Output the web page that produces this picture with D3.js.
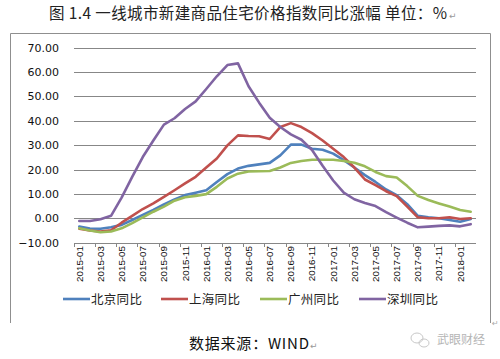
<!DOCTYPE html>
<html><head><meta charset="utf-8">
<script src="https://cdn.jsdelivr.net/npm/d3@7"></script>
<style>
html,body{margin:0;padding:0;background:#fff;}
svg{display:block;}
</style></head>
<body>
<svg id="c" width="500" height="359"></svg>
<script>
const months = ["2015-01","2015-02","2015-03","2015-04","2015-05","2015-06","2015-07","2015-08","2015-09","2015-10","2015-11","2015-12",
"2016-01","2016-02","2016-03","2016-04","2016-05","2016-06","2016-07","2016-08","2016-09","2016-10","2016-11","2016-12",
"2017-01","2017-02","2017-03","2017-04","2017-05","2017-06","2017-07","2017-08","2017-09","2017-10","2017-11","2017-12",
"2018-01","2018-02"];
const beijing = [-3.4,-4.2,-4.3,-3.7,-2.7,-0.7,1.4,3.4,5.7,7.7,9.5,10.5,11.5,14.9,18.1,20.4,21.5,22.1,22.7,
  25.8,30.2,30.2,28.5,28.1,26.5,23.8,20.8,17.7,14.9,11.8,9.5,5.8,1.0,0.4,0.0,-0.7,-1.4,-0.3];
const shanghai = [-4.3,-5.0,-5.4,-4.9,-1.8,1.0,3.8,6.1,8.8,11.5,14.3,17.0,20.8,24.5,29.9,34.0,33.7,33.6,32.5,
  37.4,39.0,37.4,34.9,31.9,28.5,25.1,20.8,15.9,13.6,11.1,9.1,4.8,0.4,0.0,0.0,0.4,-0.3,0.0];
const guangzhou = [-4.1,-5.0,-5.7,-5.4,-4.1,-2.0,0.4,2.7,4.8,7.2,8.6,9.2,9.9,12.9,16.3,18.3,19.2,19.3,19.4,
  20.8,22.7,23.5,24.0,24.0,24.0,23.5,22.8,21.3,19.0,17.3,16.7,13.2,9.2,7.5,6.1,4.8,3.4,2.7];
const shenzhen = [-1.1,-1.1,-0.4,1.0,8.5,17.0,25.1,31.9,38.4,41.0,44.8,47.9,53.0,58.2,62.8,63.5,54.1,47.4,41.2,
  37.4,34.4,32.2,28.0,21.5,15.5,10.5,7.8,6.3,5.0,2.5,0.3,-1.8,-3.7,-3.4,-3.1,-2.9,-3.3,-2.4];
const seriesNames = ["北京同比","上海同比","广州同比","深圳同比"];
const seriesColors = ["#4F81BD","#C0504D","#9BBB59","#8064A2"];
const yTicks = [-10,0,10,20,30,40,50,60,70];
const titleText = "图 1.4 一线城市新建商品住宅价格指数同比涨幅 单位：%";
const sourceText = "数据来源：WIND";
const watermark = "武眼财经";

const seriesData = [beijing, shanghai, guangzhou, shenzhen];
const svg = d3.select("#c");
const cjk = "'Noto Sans CJK SC','Noto Sans',sans-serif";

svg.append("rect").attr("width",500).attr("height",359).attr("fill","#fff");

// frame (top, left, right)
svg.append("path").attr("d","M10.5,323 V33.5 H490.5 V323")
  .attr("fill","none").attr("stroke","#8f8f8f").attr("stroke-width",1);

// title
svg.append("text").attr("x",49).attr("y",19)
  .attr("font-family",cjk).attr("font-size",15.5).attr("fill","#222")
  .attr("textLength",398).attr("lengthAdjust","spacing").text(titleText);
svg.append("text").attr("x",449).attr("y",19).attr("font-size",9).attr("fill","#999")
  .attr("font-family","DejaVu Sans").text("↵");

const x = d3.scaleBand().domain(months).range([74,476]).padding(0);
const y = d3.scaleLinear().domain([-10,70]).range([242.7,47.5]);
const cx = m => x(m) + x.bandwidth()/2;

// gridlines
svg.append("g").selectAll("line").data(yTicks).join("line")
  .attr("x1",74).attr("x2",476)
  .attr("y1",d=>Math.round(y(d))+0.5).attr("y2",d=>Math.round(y(d))+0.5)
  .attr("stroke","#878787").attr("stroke-width",1);

// y labels
const yAxis = d3.axisLeft(y).tickValues(yTicks).tickSize(0).tickPadding(0).tickFormat(d3.format(".2f"));
const ya = svg.append("g").attr("transform","translate(59,0)").call(yAxis);
ya.select(".domain").remove();
ya.selectAll("text").attr("font-family","'DejaVu Sans',sans-serif").attr("font-size",11).attr("fill","#111");

// x axis labels
const xAxis = d3.axisBottom(x).tickValues(months.filter((d,i)=>i%2===0)).tickSize(0).tickPadding(0);
const xa = svg.append("g").attr("transform",`translate(0,${Math.round(y(-10))+0.5})`).call(xAxis);
xa.select(".domain").remove();
xa.selectAll(".tick text")
  .attr("transform","translate(0,2.5) rotate(-90)")
  .attr("text-anchor","end").attr("dy","0.35em").attr("y",0).attr("x",0)
  .attr("font-family","'Liberation Sans',Arial,sans-serif").attr("font-size",9.8).attr("fill","#111");
// tick marks at category boundaries
svg.append("g").selectAll("line").data(months.filter((d,i)=>i%2===0)).join("line")
  .attr("x1",d=>Math.round(x(d))+0.5).attr("x2",d=>Math.round(x(d))+0.5)
  .attr("y1",Math.round(y(-10))).attr("y2",Math.round(y(-10))+4)
  .attr("stroke","#878787");

// lines
const line = d3.line().x((d,i)=>cx(months[i])).y(d=>y(d));
svg.append("g").selectAll("path").data(seriesData).join("path")
  .attr("d",d=>line(d)).attr("fill","none")
  .attr("stroke",(d,i)=>seriesColors[i]).attr("stroke-width",2.6)
  .attr("stroke-linejoin","round").attr("stroke-linecap","round");

// legend
const legX = [63,161,260,359];
const lg = svg.append("g").selectAll("g").data(seriesNames).join("g")
  .attr("transform",(d,i)=>`translate(${legX[i]},299)`);
lg.append("line").attr("x1",0).attr("x2",27).attr("y1",0).attr("y2",0)
  .attr("stroke",(d,i)=>seriesColors[i]).attr("stroke-width",2.6);
lg.append("text").attr("x",28).attr("y",0).attr("dy","0.36em")
  .attr("font-family",cjk).attr("font-size",12.5).attr("fill","#222")
  .attr("letter-spacing",0.3).text(d=>d);

// return mark on frame
svg.append("text").attr("x",492).attr("y",326).attr("font-size",8).attr("fill","#aaa")
  .attr("font-family","DejaVu Sans").text("↵");

// source
svg.append("text").attr("x",189).attr("y",349)
  .attr("font-family",cjk).attr("font-size",15).attr("fill","#111")
  .attr("textLength",120).attr("lengthAdjust","spacing").text(sourceText);
svg.append("text").attr("x",310).attr("y",349).attr("font-size",9).attr("fill","#999")
  .attr("font-family","DejaVu Sans").text("↵");

// watermark
const wm = svg.append("g").attr("fill","none").attr("stroke","#c8c8c8").attr("stroke-width",1);
wm.append("ellipse").attr("cx",417).attr("cy",338).attr("rx",6).attr("ry",5);
wm.append("ellipse").attr("cx",424).attr("cy",343).attr("rx",5).attr("ry",4);
svg.append("text").attr("x",437).attr("y",344)
  .attr("font-family",cjk).attr("font-size",12).attr("fill","#b5b5b5").text(watermark);
</script>
</body></html>
